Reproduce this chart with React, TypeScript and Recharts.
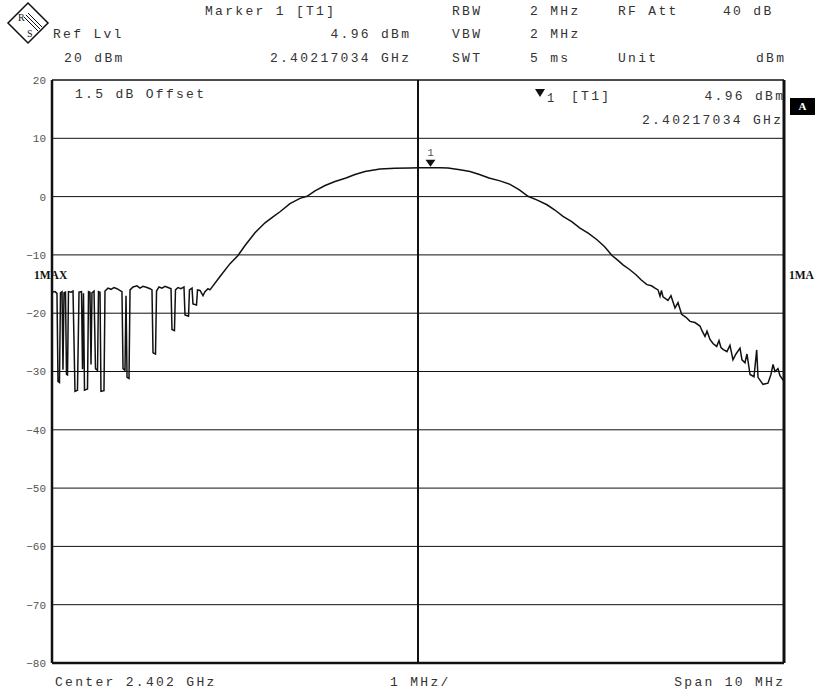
import { LineChart, Line, XAxis, YAxis, CartesianGrid, ReferenceLine, ReferenceDot } from 'recharts'

const START_MHZ = 2397
const STOP_MHZ = 2407
const CENTER_MHZ = 2402

const freqTicks = [2397, 2398, 2399, 2400, 2401, 2402, 2403, 2404, 2405, 2406, 2407]
const levelTicks = [-80, -70, -60, -50, -40, -30, -20, -10, 0, 10, 20]

// [MHz above start frequency, dBm]
const noiseFloorLeft: [number, number][] = [
  [0, -16.4], [0.041, -16.3], [0.068, -16.6], [0.082, -31.7], [0.102, -31.9], [0.116, -16.5],
  [0.137, -16.3], [0.15, -29.7], [0.164, -16.5], [0.184, -16.4], [0.198, -30.5], [0.212, -30.6],
  [0.225, -16.3], [0.26, -16.4], [0.287, -16.2], [0.314, -33.4], [0.348, -33.2], [0.369, -16.4],
  [0.403, -16.3], [0.417, -29.6], [0.43, -16.6], [0.444, -33.2], [0.485, -33.0], [0.499, -16.3],
  [0.519, -16.4], [0.533, -28.8], [0.546, -16.5], [0.574, -16.2], [0.594, -29.5], [0.622, -29.8],
  [0.635, -16.3], [0.656, -16.4], [0.669, -33.4], [0.71, -33.3], [0.724, -16.2], [0.765, -15.7],
  [0.806, -15.9], [0.847, -15.6], [0.888, -15.8], [0.915, -16.0], [0.943, -16.2], [0.956, -16.3],
  [0.97, -29.5], [0.997, -29.8], [1.011, -17.0], [1.025, -31.0], [1.052, -31.2], [1.066, -16.0],
  [1.107, -15.5], [1.161, -15.3], [1.202, -15.7], [1.243, -15.4], [1.298, -15.6], [1.339, -15.8],
  [1.366, -16.0], [1.38, -26.8], [1.414, -27.0], [1.428, -16.2], [1.462, -15.5], [1.503, -15.7],
  [1.544, -15.4], [1.585, -15.6], [1.626, -15.8], [1.639, -22.8], [1.673, -23.0], [1.687, -16.0],
  [1.721, -15.6], [1.762, -15.8], [1.803, -15.5], [1.817, -20.3], [1.865, -20.5], [1.878, -16.0],
  [1.913, -15.7], [1.926, -18.4], [1.974, -18.6], [1.988, -16.0], [2.022, -16.1], [2.063, -17.0],
  [2.09, -16.3],
]

const mainLobe: [number, number][] = [
  [2.131, -15.8], [2.158, -16.0], [2.295, -13.7], [2.432, -11.5], [2.541, -10.1], [2.637, -8.4],
  [2.773, -6.2], [2.91, -4.5], [3.005, -3.6], [3.115, -2.6], [3.251, -1.2], [3.388, -0.3],
  [3.484, 0.05], [3.593, 1.0], [3.73, 1.9], [3.866, 2.6], [4.016, 3.2], [4.139, 3.8],
  [4.276, 4.3], [4.481, 4.75], [4.686, 4.85], [4.891, 4.92], [5.027, 4.94], [5.17, 4.96],
  [5.301, 4.93], [5.41, 4.9], [5.574, 4.6], [5.71, 4.3], [5.84, 3.8], [5.97, 3.2],
  [6.12, 2.7], [6.257, 2.1], [6.38, 1.2], [6.503, 0.05], [6.63, -0.6], [6.762, -1.4],
  [6.87, -2.3], [6.981, -3.4], [7.1, -4.3], [7.213, -5.4], [7.33, -6.3], [7.445, -7.4],
  [7.55, -8.6], [7.65, -10.1], [7.72, -10.8], [7.801, -11.7], [7.89, -12.5], [7.978, -13.4],
  [8.05, -14.3], [8.128, -15.1], [8.19, -15.3], [8.238, -15.7], [8.279, -16.0],
]

const rightSkirt: [number, number][] = [
  [8.306, -17.1], [8.326, -16.1], [8.347, -17.2], [8.415, -17.8], [8.456, -17.0], [8.511, -19.1],
  [8.552, -18.2], [8.602, -20.2], [8.661, -20.7], [8.716, -21.4], [8.784, -21.6], [8.852, -22.2],
  [8.88, -23.0], [8.921, -24.0], [8.948, -23.1], [8.989, -24.5], [9.03, -25.2], [9.08, -25.7],
  [9.112, -24.7], [9.139, -25.9], [9.167, -26.2], [9.221, -26.6], [9.262, -25.5], [9.303, -28.0],
  [9.344, -27.0], [9.399, -26.0], [9.426, -28.0], [9.467, -28.5], [9.494, -27.0], [9.536, -30.5],
  [9.59, -30.9], [9.627, -26.3], [9.645, -31.0], [9.713, -32.2], [9.781, -32.0], [9.822, -30.5],
  [9.85, -28.8], [9.877, -30.0], [9.918, -29.5], [9.945, -30.7], [10.0, -31.7],
]

const markerFreq = 2402.17034
const markerLevel = 4.96

const trace = [...noiseFloorLeft, ...mainLobe, ...rightSkirt].map(([off, db]) => ({
  f: START_MHZ + off,
  level: db,
}))

const W = 815
const H = 691

const mono = {
  fontFamily: '"Liberation Mono", "DejaVu Sans Mono", monospace',
  fontSize: 13,
  letterSpacing: 2.3,
  color: '#333',
}

function T({ x, y, right, children, style }: { x: number; y: number; right?: boolean; children: any; style?: any }) {
  const pos = right ? { right: W - x - 2.3 } : { left: x }
  return (
    <div style={{ position: 'absolute', top: y - 7, lineHeight: '14px', whiteSpace: 'pre', ...mono, ...pos, ...style }}>
      {children}
    </div>
  )
}

const fmtLevel = (v: number) => (v < 0 ? '\u2212' + Math.abs(v) : String(v))

function MarkerShape(props: any) {
  const { cx, cy } = props
  return (
    <g>
      <polygon points={`${cx - 5},${cy - 8} ${cx + 5},${cy - 8} ${cx},${cy - 1}`} fill="#111" />
      <text x={cx} y={cy - 12} textAnchor="middle" fontSize={11} fill="#555" fontFamily='"Liberation Mono", monospace'>1</text>
    </g>
  )
}

function Logo() {
  return (
    <svg width={50} height={46} style={{ position: 'absolute', left: 3, top: 0 }}>
      <polygon points="25,3 45,23 25,43 5,23" fill="none" stroke="#111" strokeWidth={1.5} />
      <line x1={21} y1={17} x2={35} y2={31} stroke="#111" strokeWidth={1} />
      <line x1={23} y1={15} x2={37} y2={29} stroke="#111" strokeWidth={1} />
      <line x1={25} y1={13} x2={39} y2={27} stroke="#111" strokeWidth={1} />
      <text x={15} y={21} fontSize={10} fontFamily='"Liberation Serif", serif' fill="#111">R</text>
      <text x={24} y={37} fontSize={10} fontFamily='"Liberation Serif", serif' fill="#111">S</text>
    </svg>
  )
}

const tag = { position: 'absolute' as const, fontFamily: '"Liberation Serif", serif', fontWeight: 'bold' as const, fontSize: 11.5, color: '#111', whiteSpace: 'pre' as const }

export default function App() {
  return (
    <div style={{ position: 'absolute', left: 0, top: 0, width: W, height: H, background: '#fff', overflow: 'hidden' }}>
      <LineChart width={W} height={H} data={trace} margin={{ top: 80, right: 31, bottom: 28, left: 0 }}>
        <CartesianGrid stroke="#111" strokeWidth={1} />
        <XAxis
          dataKey="f"
          type="number"
          domain={[START_MHZ, STOP_MHZ]}
          ticks={freqTicks}
          tick={false}
          tickLine={false}
          axisLine={false}
          height={0}
          allowDataOverflow
        />
        <YAxis
          type="number"
          domain={[-80, 20]}
          ticks={levelTicks}
          tickFormatter={fmtLevel}
          tickLine={false}
          axisLine={false}
          tickSize={0}
          tickMargin={6}
          width={52}
          tick={{ fontSize: 11, fill: '#555', fontFamily: '"Liberation Mono", monospace' }}
          allowDataOverflow
        />
        <ReferenceLine x={CENTER_MHZ} stroke="#111" strokeWidth={2} />
        <ReferenceLine x={START_MHZ} stroke="#111" strokeWidth={2.5} />
        <ReferenceLine x={STOP_MHZ} stroke="#111" strokeWidth={3} />
        <ReferenceLine y={-80} stroke="#111" strokeWidth={2.5} />
        <ReferenceLine y={20} stroke="#111" strokeWidth={1} />
        <Line
          type="linear"
          dataKey="level"
          stroke="#111"
          strokeWidth={1.5}
          dot={false}
          isAnimationActive={false}
        />
        <ReferenceDot x={markerFreq} y={markerLevel} r={0} shape={MarkerShape} isFront />
      </LineChart>

      <Logo />

      <T x={205} y={12}>Marker 1 [T1]</T>
      <T x={452} y={12}>RBW</T>
      <T x={530} y={12}>2 MHz</T>
      <T x={618} y={12}>RF Att</T>
      <T x={723} y={12}>40 dB</T>

      <T x={53} y={35}>Ref Lvl</T>
      <T x={409} y={35} right>4.96 dBm</T>
      <T x={452} y={35}>VBW</T>
      <T x={530} y={35}>2 MHz</T>

      <T x={64} y={59}>20 dBm</T>
      <T x={409} y={59} right>2.40217034 GHz</T>
      <T x={452} y={59}>SWT</T>
      <T x={530} y={59}>5 ms</T>
      <T x={618} y={59}>Unit</T>
      <T x={784} y={59} right>dBm</T>

      <T x={75} y={95}>1.5 dB Offset</T>
      <svg width={12} height={10} style={{ position: 'absolute', left: 535, top: 89 }}>
        <polygon points="0,0 10,0 5,8" fill="#111" />
      </svg>
      <T x={547} y={99} style={{ fontSize: 12 }}>1</T>
      <T x={571} y={97}>[T1]</T>
      <T x={783} y={97} right>4.96 dBm</T>
      <T x={781} y={121} right>2.40217034 GHz</T>

      <div style={{ ...tag, left: 34, top: 269 }}>1MAX</div>
      <div style={{ ...tag, left: 789, top: 269 }}>1MA</div>
      <div style={{ position: 'absolute', left: 790, top: 98, width: 25, height: 17, background: '#000', color: '#fff', fontFamily: '"Liberation Serif", serif', fontWeight: 'bold', fontSize: 11, lineHeight: '17px', textAlign: 'center' }}>A</div>

      <T x={55} y={683}>Center 2.402 GHz</T>
      <T x={390} y={683}>1 MHz/</T>
      <T x={783} y={683} right>Span 10 MHz</T>
    </div>
  )
}
